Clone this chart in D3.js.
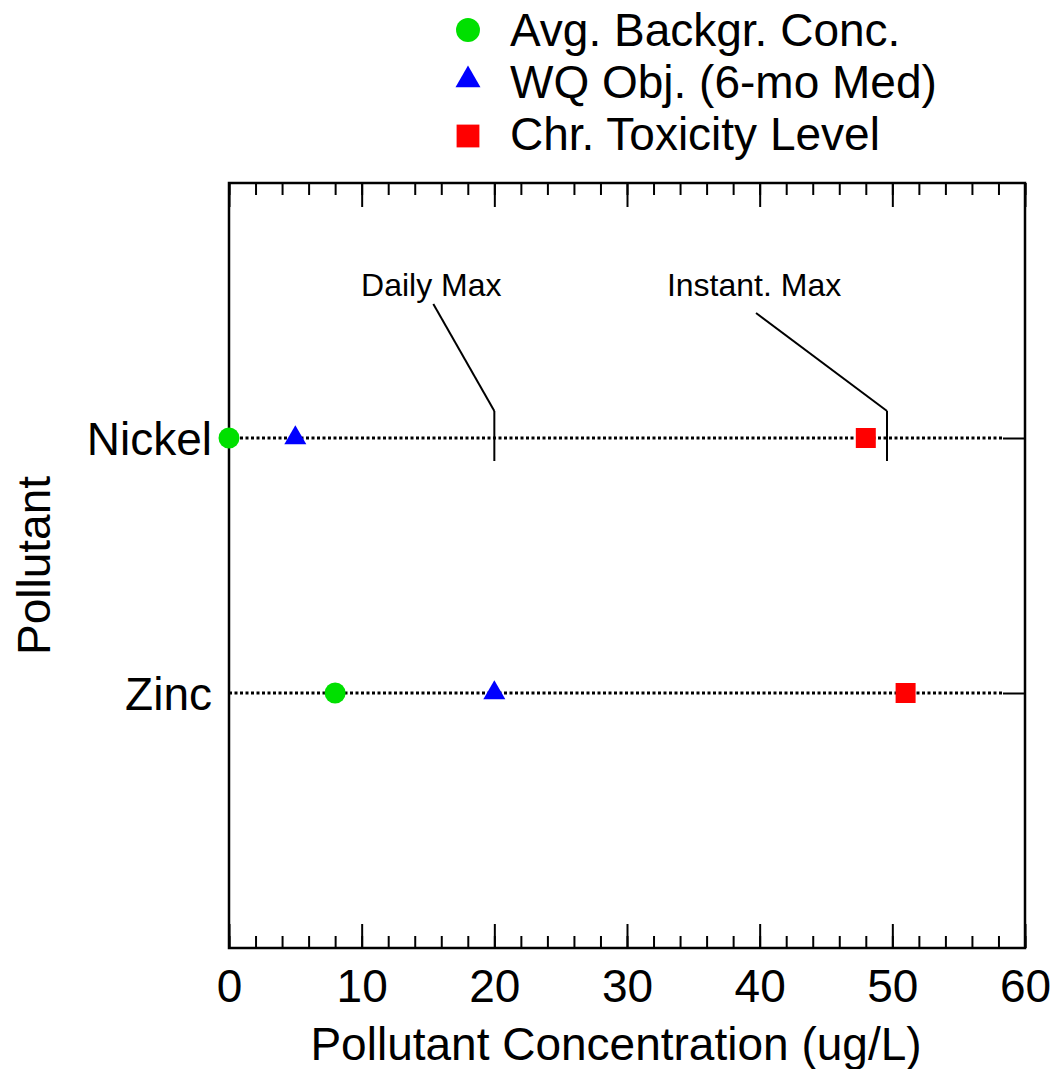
<!DOCTYPE html>
<html>
<head>
<meta charset="utf-8">
<script src="https://cdn.jsdelivr.net/npm/d3@7"></script>
<style>
  body { margin: 0; background: #fff; }
  text { font-family: "Liberation Sans", Arial, sans-serif; fill: #000; }
</style>
</head>
<body>
<div id="chart"></div>
<script>
// data
const pollutants = ["Nickel", "Zinc"];
const backgroundConc = [0, 8];       // Avg. Backgr. Conc.
const wqObjective = [5, 20];         // WQ Obj. (6-mo Med)
const chronicToxicity = [48, 51];    // Chr. Toxicity Level
const xTicks = [0, 10, 20, 30, 40, 50, 60];
const limitNames = ["Daily Max", "Instant. Max"];
const limitValues = [20, 49.6];      // both for Nickel
const seriesNames = ["Avg. Backgr. Conc.", "WQ Obj. (6-mo Med)", "Chr. Toxicity Level"];

const width = 1053, height = 1069;
const margin = { top: 183, right: 28, bottom: 121, left: 229 };
const plotW = width - margin.left - margin.right;
const plotH = height - margin.top - margin.bottom;
const fontBig = "46px";

const svg = d3.select("#chart")
  .append("svg")
  .attr("width", width)
  .attr("height", height);

const x = d3.scaleLinear().domain([0, 60]).range([margin.left, margin.left + plotW]);
const y = d3.scalePoint().domain(pollutants).range([margin.top, margin.top + plotH]).padding(1);

const series = [
  { name: seriesNames[0], values: backgroundConc, symbol: d3.symbolCircle, color: "#00e000", size: 346, legSize: 450 },
  { name: seriesNames[1], values: wqObjective, symbol: d3.symbolTriangle, color: "#0000ff", size: 210, legSize: 270 },
  { name: seriesNames[2], values: chronicToxicity, symbol: d3.symbolSquare, color: "#ff0000", size: 400, legSize: 520 }
];

// ticks: minor every 2, major every 10, pointing inward, top and bottom
const bottom = margin.top + plotH;
const minorVals = d3.range(0, 61, 2);

function styleAxis(g) {
  g.select(".domain").remove();
  g.selectAll(".tick line").attr("stroke", "#000").attr("stroke-width", 2);
}

svg.append("g").attr("transform", `translate(0,${bottom})`)
  .call(d3.axisBottom(x).tickValues(minorVals).tickSize(-12).tickFormat(""))
  .call(styleAxis);
svg.append("g").attr("transform", `translate(0,${margin.top})`)
  .call(d3.axisTop(x).tickValues(minorVals).tickSize(-12).tickFormat(""))
  .call(styleAxis);
svg.append("g").attr("transform", `translate(0,${margin.top})`)
  .call(d3.axisTop(x).tickValues(xTicks).tickSize(-24).tickFormat(""))
  .call(styleAxis);

const xAxis = svg.append("g").attr("transform", `translate(0,${bottom})`)
  .call(d3.axisBottom(x).tickValues(xTicks).tickSize(-24).tickPadding(21).tickFormat(d3.format("d")))
  .call(styleAxis);
xAxis.selectAll(".tick text").style("font-size", fontBig).style("font-family", "Liberation Sans, Arial, sans-serif");

// category axis
const yAxis = svg.append("g").attr("transform", `translate(${margin.left},0)`)
  .call(d3.axisLeft(y).tickSize(0).tickPadding(17))
  .call(styleAxis);
yAxis.selectAll(".tick text").style("font-size", fontBig).style("font-family", "Liberation Sans, Arial, sans-serif")
  .attr("dy", "0.36em");

svg.append("g").attr("transform", `translate(${margin.left + plotW},0)`)
  .call(d3.axisRight(y).tickSize(-22).tickFormat(""))
  .call(styleAxis);

// dotted guide lines for each pollutant
svg.append("g").selectAll("line")
  .data(pollutants)
  .join("line")
  .attr("x1", x(0))
  .attr("x2", x(60) - 22)
  .attr("y1", d => y(d))
  .attr("y2", d => y(d))
  .attr("stroke", "#000")
  .attr("stroke-width", 3)
  .attr("stroke-dasharray", "3,2.5");

// frame
svg.append("rect")
  .attr("x", margin.left)
  .attr("y", margin.top)
  .attr("width", plotW)
  .attr("height", plotH)
  .attr("fill", "none")
  .attr("stroke", "#000")
  .attr("stroke-width", 2.5);

// Nickel limit markers with leader lines and labels
const yN = y("Nickel");
const leader = [{ dx: -61, dy: -107 }, { dx: -131, dy: -98 }];
const lim = svg.append("g");
limitValues.forEach((v, i) => {
  const lx = x(v);
  lim.append("line")
    .attr("x1", lx).attr("x2", lx)
    .attr("y1", yN - 27).attr("y2", yN + 23)
    .attr("stroke", "#000").attr("stroke-width", 2);
  lim.append("line")
    .attr("x1", lx).attr("y1", yN - 27)
    .attr("x2", lx + leader[i].dx).attr("y2", yN - 27 + leader[i].dy)
    .attr("stroke", "#000").attr("stroke-width", 2);
  lim.append("text")
    .attr("x", lx + leader[i].dx - 2)
    .attr("y", yN - 142)
    .attr("text-anchor", "middle")
    .style("font-size", "32px")
    .text(limitNames[i]);
});

// points
series.forEach(s => {
  svg.append("g").selectAll("path")
    .data(pollutants.map((p, i) => ({ p, v: s.values[i] })))
    .join("path")
    .attr("d", d3.symbol().type(s.symbol).size(s.size))
    .attr("transform", d => `translate(${x(d.v)},${y(d.p)})`)
    .attr("fill", s.color);
});

// legend
const legend = svg.append("g").attr("transform", "translate(468,0)");
const rowY = [46, 98, 150];
series.forEach((s, i) => {
  legend.append("path")
    .attr("d", d3.symbol().type(s.symbol).size(s.legSize))
    .attr("transform", `translate(0,${rowY[i] - 16 + (i === 1 ? -2 : 0) + (i === 2 ? 2 : 0)})`)
    .attr("fill", s.color);
  legend.append("text")
    .attr("x", 42)
    .attr("y", rowY[i])
    .style("font-size", fontBig)
    .text(s.name);
});

// axis titles
svg.append("text")
  .attr("x", 616)
  .attr("y", 1060)
  .attr("text-anchor", "middle")
  .style("font-size", fontBig)
  .text("Pollutant Concentration (ug/L)");

svg.append("text")
  .attr("transform", `translate(50,${margin.top + plotH / 2}) rotate(-90)`)
  .attr("text-anchor", "middle")
  .style("font-size", fontBig)
  .text("Pollutant");
</script>
</body>
</html>
